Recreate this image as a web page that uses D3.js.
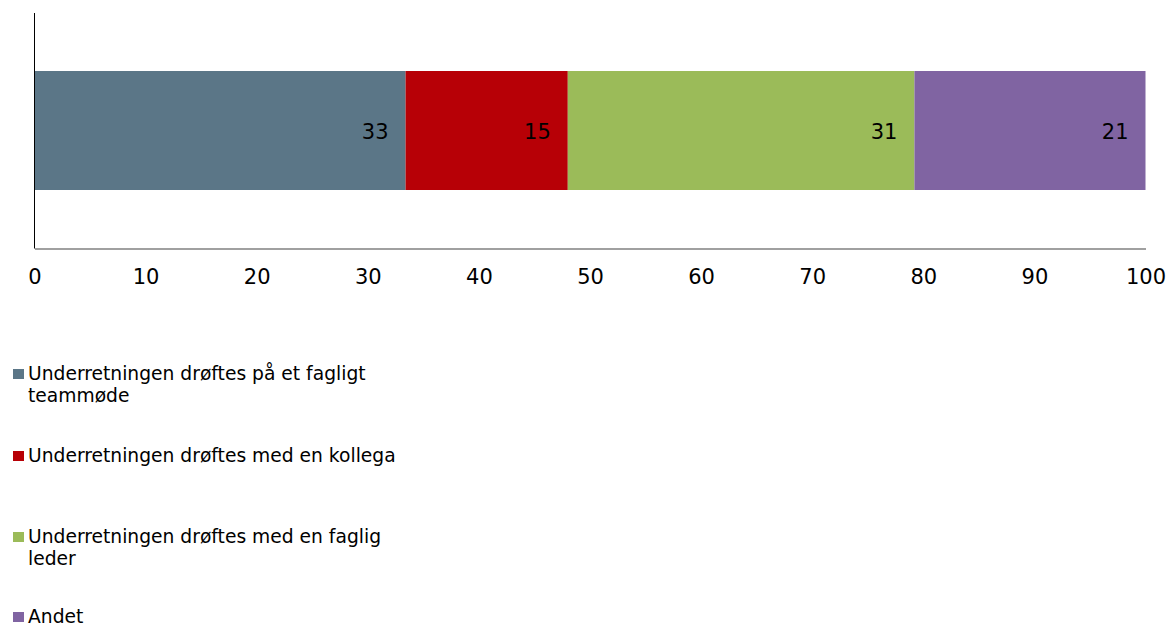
<!DOCTYPE html>
<html><head><meta charset="utf-8">
<script src="https://cdn.jsdelivr.net/npm/d3@7"></script>
<style>body{margin:0;background:#fff}svg{display:block}text{font-family:"DejaVu Sans",Verdana,sans-serif;fill:#000}</style>
</head><body>
<svg id="c" width="1168" height="625"></svg>
<script>
const categories = ["Underretningen drøftes på et fagligt teammøde","Underretningen drøftes med en kollega","Underretningen drøftes med en faglig leder","Andet"];
const values = [33.4, 14.6, 31.2, 20.8];
const labels = [33, 15, 31, 21];
const ticks = [0,10,20,30,40,50,60,70,80,90,100];
const colors = ["#5B7687","#B70006","#9BBB59","#8064A2"];

const svg = d3.select("#c");
const x = d3.scaleLinear().domain([0,100]).range([34.5,1145.5]);
const barTop = 71, barH = 119;

let cum = 0;
const segs = values.map((v,i)=>{const s={x0:cum,x1:cum+v,v,lab:labels[i],c:colors[i]};cum+=v;return s;});
svg.selectAll("rect.seg").data(segs).join("rect").attr("class","seg")
  .attr("x",d=>x(d.x0)).attr("width",d=>x(d.x1)-x(d.x0))
  .attr("y",barTop).attr("height",barH).attr("fill",d=>d.c);
svg.selectAll("text.lab").data(segs).join("text").attr("class","lab")
  .attr("x",d=>x(d.x1)-17).attr("y",barTop+barH/2+1).attr("dy","0.36em")
  .attr("text-anchor","end").style("font-size","21px").text(d=>d.lab);

// axes
svg.append("line").attr("x1",34.5).attr("x2",34.5).attr("y1",13).attr("y2",248.5).attr("stroke","#000").attr("stroke-width",1);
const xa = svg.append("g").attr("transform","translate(0,248.5)")
  .call(d3.axisBottom(x).tickValues(ticks).tickSize(0).tickPadding(21).tickFormat(d3.format("d")));
xa.select(".domain").attr("stroke","#808080").attr("stroke-width",1.5);
xa.selectAll("text").style("font-size","21px").attr("fill","#000").style("font-family","DejaVu Sans, Verdana, sans-serif");

// legend
const legY = [373, 455, 536, 616];
const lg = svg.selectAll("g.leg").data(categories).join("g").attr("class","leg")
  .attr("transform",(d,i)=>`translate(0,${legY[i]})`);
lg.append("rect").attr("x",13).attr("y",-4).attr("width",11).attr("height",10).attr("fill",(d,i)=>colors[i]);
lg.each(function(d){
  const g = d3.select(this);
  const t = g.append("text").attr("x",28).attr("y",0).attr("dy","0.36em").style("font-size","18.7px");
  const words = d.split(" ");
  let line=[], tspan=t.append("tspan").attr("x",28);
  for(const w of words){
    line.push(w); tspan.text(line.join(" "));
    if(tspan.node().getComputedTextLength()>385 && line.length>1){
      line.pop(); tspan.text(line.join(" "));
      line=[w];
      tspan=t.append("tspan").attr("x",28).attr("dy","22px").text(w);
    }
  }
});
</script>
</body></html>
